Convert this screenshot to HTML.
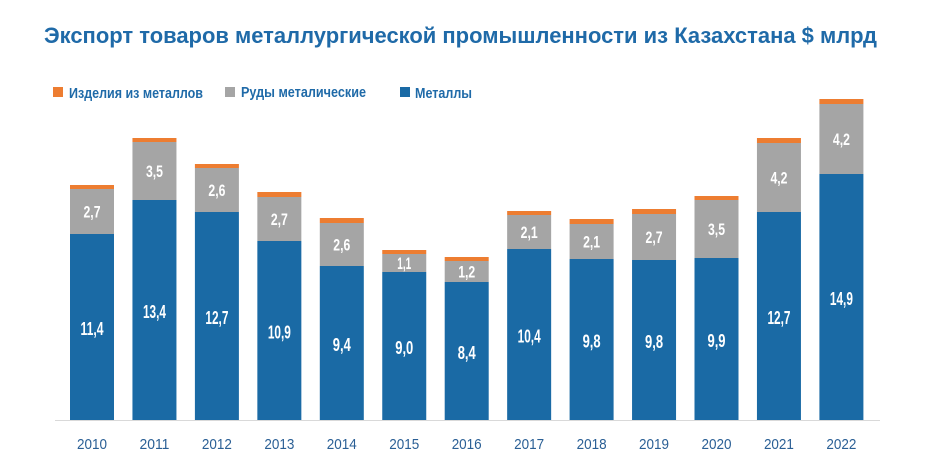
<!DOCTYPE html>
<html><head><meta charset="utf-8"><style>
body{margin:0;background:#fff;}
svg{display:block;font-family:"Liberation Sans Narrow","Liberation Sans",sans-serif;}
</style></head><body>
<svg width="925" height="472" viewBox="0 0 925 472">
<text x="44" y="43" font-size="22" font-weight="bold" fill="#1f6aa8" font-family="Liberation Sans, sans-serif" textLength="833" lengthAdjust="spacingAndGlyphs">Экспорт товаров металлургической промышленности из Казахстана $ млрд</text>
<rect x="53" y="87" width="10" height="10" fill="#ed7d31"/>
<text x="69" y="98" font-size="15" font-weight="bold" fill="#1f6aa8" textLength="134" lengthAdjust="spacingAndGlyphs">Изделия из металлов</text>
<rect x="225" y="87" width="10" height="10" fill="#a5a5a5"/>
<text x="241" y="97" font-size="15" font-weight="bold" fill="#1f6aa8" textLength="125" lengthAdjust="spacingAndGlyphs">Руды металические</text>
<rect x="400" y="87" width="10" height="10" fill="#1a6aa5"/>
<text x="415" y="98" font-size="15" font-weight="bold" fill="#1f6aa8" textLength="57" lengthAdjust="spacingAndGlyphs">Металлы</text>
<line x1="55" y1="420.5" x2="880" y2="420.5" stroke="#d9d9d9" stroke-width="1"/>
<g id="bars"></g>
</svg>
<script>
var d=[["2010",234,189,185,"11,4","2,7"],["2011",200,142,138,"13,4","3,5"],["2012",212,168,164,"12,7","2,6"],["2013",241,197,192,"10,9","2,7"],["2014",266,223,218,"9,4","2,6"],["2015",272,254,250,"9,0","1,1"],["2016",282,261,257,"8,4","1,2"],["2017",249,215,211,"10,4","2,1"],["2018",259,224,219,"9,8","2,1"],["2019",260,214,209,"9,8","2,7"],["2020",258,200,196,"9,9","3,5"],["2021",212,143,138,"12,7","4,2"],["2022",174,104,99,"14,9","4,2"]];
var g=document.getElementById("bars"),s="",B=420;
d.forEach(function(r,i){var x=70+i*62.45,w=44,c=x+w/2;
var lw=r[4].length==4?23:18, gw=r[5]=="1,1"?14:17;
s+='<rect x="'+x+'" y="'+r[3]+'" width="'+w+'" height="'+(r[2]-r[3])+'" fill="#ed7d31"/>';
s+='<rect x="'+x+'" y="'+r[2]+'" width="'+w+'" height="'+(r[1]-r[2])+'" fill="#a5a5a5"/>';
s+='<rect x="'+x+'" y="'+r[1]+'" width="'+w+'" height="'+(B-r[1])+'" fill="#1a6aa5"/>';
s+='<text x="'+c+'" y="'+((r[1]+r[2])/2+6)+'" font-size="17" font-weight="bold" fill="#fff" text-anchor="middle" textLength="'+gw+'" lengthAdjust="spacingAndGlyphs">'+r[5]+'</text>';
s+='<text x="'+c+'" y="'+((r[1]+B)/2+8)+'" font-size="18" font-weight="bold" fill="#fff" text-anchor="middle" textLength="'+lw+'" lengthAdjust="spacingAndGlyphs">'+r[4]+'</text>';
s+='<text x="'+c+'" y="449" font-size="15" fill="#2a5f95" text-anchor="middle" textLength="30" lengthAdjust="spacingAndGlyphs">'+r[0]+'</text>';});
g.innerHTML=s;
</script>
</body></html>
